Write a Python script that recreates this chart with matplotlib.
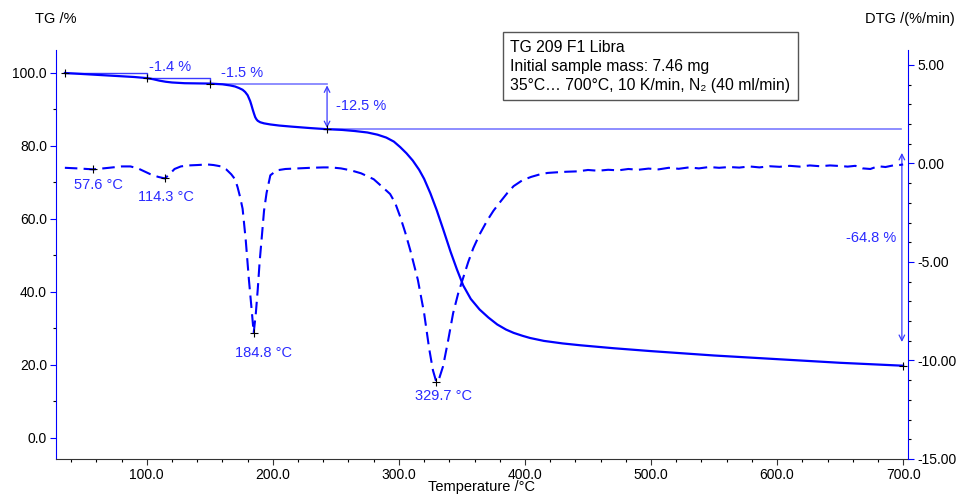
import matplotlib
matplotlib.use("Agg")
import matplotlib.pyplot as plt
import numpy as np

plt.rcParams['font.family'] = ['Liberation Sans', 'DejaVu Sans']

# TG curve (%)
tg_T = [35, 50, 70, 90, 100, 105, 110, 115, 120, 125, 130, 140, 150, 160, 166, 170, 173, 176, 178, 180, 182, 183, 184, 185, 186,
        187, 188, 190, 193, 198, 205, 215, 230, 243, 255, 265, 275, 283, 290, 296, 301, 306, 311, 316, 320, 325, 330, 335, 341,
        346, 351, 357, 364, 371, 378, 385, 391, 398, 404, 415, 430, 444, 470, 500, 550, 600, 650, 700]
tg_v = [100.0, 99.7, 99.3, 98.9, 98.6, 98.3, 97.9, 97.6, 97.4, 97.3, 97.2, 97.15, 97.1, 96.9, 96.6, 96.3, 95.9, 95.4, 94.8, 93.9, 92.3, 91.2, 90.0, 88.9, 87.9,
        87.3, 86.9, 86.5, 86.2, 85.9, 85.6, 85.3, 84.9, 84.6, 84.4, 84.1, 83.7, 83.1, 82.3, 81.2, 79.7, 78.0, 76.0, 73.5, 71.0, 67.0, 62.4, 57.3, 51.0,
        46.2, 41.8, 38.1, 35.2, 33.0, 31.1, 29.7, 28.8, 28.0, 27.4, 26.6, 25.9, 25.4, 24.6, 23.8, 22.6, 21.6, 20.6, 19.8]

# DTG curve (%/min)
dtg_T = [35, 45, 57.6, 70, 80, 87, 93, 98, 103, 109, 114.3, 118, 122, 127, 133, 140, 148, 153, 159, 163, 167, 170, 172, 174, 176,
         178.5, 181, 183, 184.8, 186.5, 188, 189.5, 191, 193, 195, 198, 203, 210, 220, 230, 240, 246, 254, 262, 270, 280, 287, 293,
         297, 301, 305, 309, 315, 320, 324, 327, 329.7, 332, 335, 339, 343, 347, 351, 355, 359, 364, 370, 375, 381, 386, 391, 398,
         405, 412, 418, 425, 433, 442, 450, 458, 466, 474, 482, 490, 498, 506, 514, 522, 530, 538, 546, 554, 562, 570, 578, 586,
         594, 602, 610, 618, 626, 634, 642, 650, 656, 662, 668, 674, 680, 686, 692, 697, 700]
dtg_v = [-0.22, -0.25, -0.3, -0.22, -0.15, -0.15, -0.25, -0.4, -0.55, -0.68, -0.76, -0.55, -0.28, -0.15, -0.1, -0.08, -0.05, -0.08, -0.15, -0.3, -0.55, -0.8, -1.2, -1.7, -2.3,
         -3.9, -5.9, -7.3, -8.6, -7.6, -6.4, -5.0, -3.9, -2.4, -1.5, -0.6, -0.35, -0.28, -0.25, -0.22, -0.2, -0.2, -0.25, -0.35, -0.5, -0.8, -1.2, -1.55,
         -2.0, -2.7, -3.5, -4.4, -5.9, -7.6, -9.4, -10.5, -11.1, -10.9, -10.3, -9.0, -7.6, -6.6, -5.8, -5.0, -4.3, -3.6, -2.9, -2.4, -1.9, -1.5, -1.15, -0.85,
         -0.68, -0.55, -0.48, -0.45, -0.42, -0.4, -0.33, -0.37, -0.32, -0.35, -0.28, -0.32, -0.26, -0.3, -0.22, -0.27, -0.2, -0.25, -0.18, -0.22, -0.18, -0.21, -0.15, -0.2,
         -0.14, -0.17, -0.12, -0.16, -0.1, -0.14, -0.1, -0.13, -0.16, -0.12, -0.25, -0.28, -0.14, -0.18, -0.1, -0.08, -0.05]

tg_marks_T = [35, 100, 150, 243, 700]
tg_marks_v = [100.0, 98.6, 97.1, 84.6, 19.8]
peak_T = [57.6, 114.3, 184.8, 329.7]
peak_v = [-0.3, -0.76, -8.6, -11.1]
peak_labels = ["57.6 °C", "114.3 °C", "184.8 °C", "329.7 °C"]
step_labels = ["-1.4 %", "-1.5 %", "-12.5 %", "-64.8 %"]

BLUE = '#0000ff'
TXTBLUE = '#2a2aff'
LINEBLUE = '#7a7aff'

fig = plt.figure(figsize=(9.58, 4.94), dpi=100)
ax = fig.add_axes([0.0585, 0.0709, 0.8895, 0.8279])
ax2 = ax.twinx()

ax.set_xlim(28, 704)
ax.set_ylim(-5.75, 106.3)
ax2.set_ylim(-15.0, 5.76)

ax.plot(tg_T, tg_v, color=BLUE, lw=1.6, zorder=5)
ax2.plot(dtg_T, dtg_v, color=BLUE, lw=1.5, dashes=(6, 3), zorder=5)

ax.plot(tg_marks_T, tg_marks_v, '+', color='black', ms=6, mew=0.8, zorder=6)
ax2.plot(peak_T, peak_v, '+', color='black', ms=6, mew=0.8, zorder=6)

# step lines
ax.plot([35, 100, 100], [100.0, 100.0, 98.6], color='#3a3aff', lw=1.0)
ax.plot([100, 150, 150], [98.6, 98.6, 97.1], color='#3a3aff', lw=1.0)
ax.plot([150, 243], [97.1, 97.1], color=LINEBLUE, lw=1.2)
ax.plot([243, 698], [84.6, 84.6], color=LINEBLUE, lw=1.2)
ax.annotate('', xy=(243, 84.9), xytext=(243, 96.6),
            arrowprops=dict(arrowstyle='<->', color='#3a3aff', lw=0.9, shrinkA=0, shrinkB=0))
ax.annotate('', xy=(699, 26.3), xytext=(699, 78.1),
            arrowprops=dict(arrowstyle='<->', color='#3a3aff', lw=0.9, shrinkA=0, shrinkB=0))

fs = 10.5
ax.text(101.5, 99.6, step_labels[0], color=TXTBLUE, fontsize=fs, ha='left', va='bottom')
ax.text(159, 98.0, step_labels[1], color=TXTBLUE, fontsize=fs, ha='left', va='bottom')
ax.text(250, 90.9, step_labels[2], color=TXTBLUE, fontsize=fs, ha='left', va='center')
ax.text(655, 54.8, step_labels[3], color=TXTBLUE, fontsize=fs, ha='left', va='center')

ax2.text(42, -1.1, peak_labels[0], color=TXTBLUE, fontsize=fs, ha='left', va='center')
ax2.text(93, -1.7, peak_labels[1], color=TXTBLUE, fontsize=fs, ha='left', va='center')
ax2.text(170, -9.6, peak_labels[2], color=TXTBLUE, fontsize=fs, ha='left', va='center')
ax2.text(313, -11.8, peak_labels[3], color=TXTBLUE, fontsize=fs, ha='left', va='center')

# info box
fig.text(0.5324, 0.919,
         "TG 209 F1 Libra\nInitial sample mass: 7.46 mg\n35°C… 700°C, 10 K/min, N₂ (40 ml/min)",
         fontsize=11.3, ha='left', va='top', linespacing=1.33,
         bbox=dict(boxstyle='square,pad=0.48', fc='white', ec='#555555', lw=1.0))

# ticks
ax.set_xticks(np.arange(100, 701, 100))
ax.set_xticklabels([f"{v:.1f}" for v in np.arange(100, 701, 100)])
ax.set_xticks(np.arange(40, 701, 20), minor=True)
ax.set_yticks(np.arange(0, 101, 20))
ax.set_yticklabels([f"{v:.1f}" for v in np.arange(0, 101, 20)])
ax.set_yticks(np.arange(10, 101, 20), minor=True)
ax2.set_yticks(np.arange(-15, 5.1, 5))
ax2.set_yticklabels([f"{v:.2f}" for v in np.arange(-15, 5.1, 5)])
ax2.set_yticks(np.arange(-15, 5.1, 1), minor=True)

for a in (ax, ax2):
    a.tick_params(labelsize=10, direction='out')
    a.tick_params(which='major', length=4, width=0.8, pad=2.5)
    a.tick_params(which='minor', length=2.5, width=0.8)
    a.spines['top'].set_visible(False)

ax.spines['left'].set_color(BLUE)
ax.spines['right'].set_visible(False)
ax2.spines['right'].set_color(BLUE)
ax2.spines['left'].set_visible(False)
ax2.spines['bottom'].set_visible(False)
ax.spines['bottom'].set_color('#333333')
ax.tick_params(axis='y', colors=BLUE, labelcolor='black')
ax2.tick_params(axis='y', colors=BLUE, labelcolor='black')
ax.tick_params(axis='x', colors='#333333', labelcolor='black')

fig.text(0.503, 0.014, "Temperature /°C", fontsize=10.5, ha='center', va='center')
fig.text(0.037, 0.962, "TG /%", fontsize=10.5, ha='left', va='center')
fig.text(0.997, 0.962, "DTG /(%/min)", fontsize=10.5, ha='right', va='center')

fig.savefig("out.png", dpi=100)
